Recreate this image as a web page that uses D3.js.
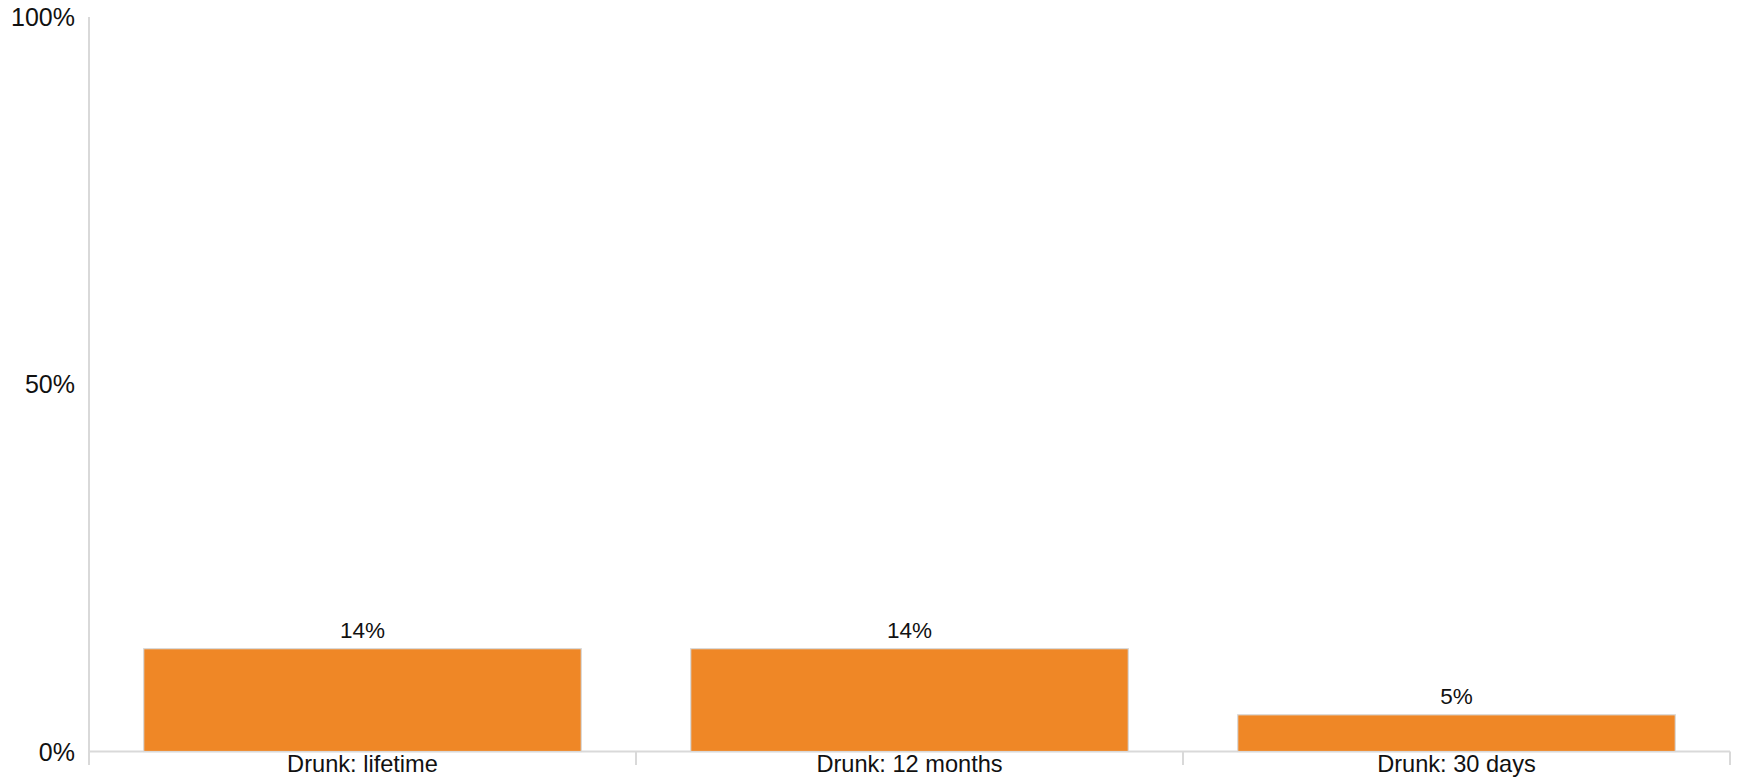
<!DOCTYPE html>
<html lang="en">
<head>
<meta charset="UTF-8">
<title>Drunk</title>
<style>
  body { margin: 0; background: #fff; }
  text { font-family: "Liberation Sans", Arial, sans-serif; fill: #111; }
</style>
</head>
<body>
<svg width="1738" height="777"></svg>
<script src="https://d3js.org/d3.v7.min.js"></script>
<script>
const categories = ["Drunk: lifetime", "Drunk: 12 months", "Drunk: 30 days"];
const values = [14, 14, 5];
const yTicks = [0, 50, 100];

const margin = {top: 17, right: 8, bottom: 26, left: 89};
const svg = d3.select("svg");
const width = +svg.attr("width");
const height = +svg.attr("height");
const plotW = width - margin.left - margin.right;
const plotH = 751.5 - margin.top;

const g = svg.append("g").attr("transform", `translate(${margin.left},${margin.top})`);

const x = d3.scaleBand().domain(categories).range([0, plotW]).paddingInner(0.2).paddingOuter(0.1);
const y = d3.scaleLinear().domain([0, 100]).range([plotH, 0]);
const axisColor = "#d9d9d9";

// y axis line (runs below zero like a tick)
g.append("line")
  .attr("x1", 0).attr("x2", 0)
  .attr("y1", y(100)).attr("y2", plotH + 13.5)
  .attr("stroke", axisColor).attr("stroke-width", 2);

// y tick labels
g.selectAll(".ylab")
  .data(yTicks)
  .enter().append("text")
  .attr("x", -14)
  .attr("y", d => y(d))
  .attr("dy", "0.36em")
  .attr("text-anchor", "end")
  .style("font-size", "25px")
  .text(d => d + "%");

// x axis line
g.append("line")
  .attr("x1", 0).attr("x2", plotW)
  .attr("y1", plotH).attr("y2", plotH)
  .attr("stroke", axisColor).attr("stroke-width", 2);

// category separator ticks
g.selectAll(".xtick")
  .data(categories)
  .enter().append("line")
  .attr("x1", (d, i) => (i + 1) * plotW / categories.length)
  .attr("x2", (d, i) => (i + 1) * plotW / categories.length)
  .attr("y1", plotH).attr("y2", plotH + 13.5)
  .attr("stroke", axisColor).attr("stroke-width", 2);

// bars
g.selectAll(".bar")
  .data(values)
  .enter().append("rect")
  .attr("x", (d, i) => x(categories[i]))
  .attr("y", d => y(d))
  .attr("width", x.bandwidth())
  .attr("height", d => plotH - y(d))
  .attr("fill", "#ef8726")
  .attr("stroke", "#d9d9d9")
  .attr("stroke-width", 1.2);

// value labels
g.selectAll(".vlab")
  .data(values)
  .enter().append("text")
  .attr("x", (d, i) => x(categories[i]) + x.bandwidth() / 2)
  .attr("y", d => y(d) - 11)
  .attr("text-anchor", "middle")
  .style("font-size", "22.5px")
  .text(d => d + "%");

// category labels
g.selectAll(".xlab")
  .data(categories)
  .enter().append("text")
  .attr("x", d => x(d) + x.bandwidth() / 2)
  .attr("y", plotH + 20)
  .attr("text-anchor", "middle")
  .style("font-size", "23.6px")
  .text(d => d);
</script>
</body>
</html>
